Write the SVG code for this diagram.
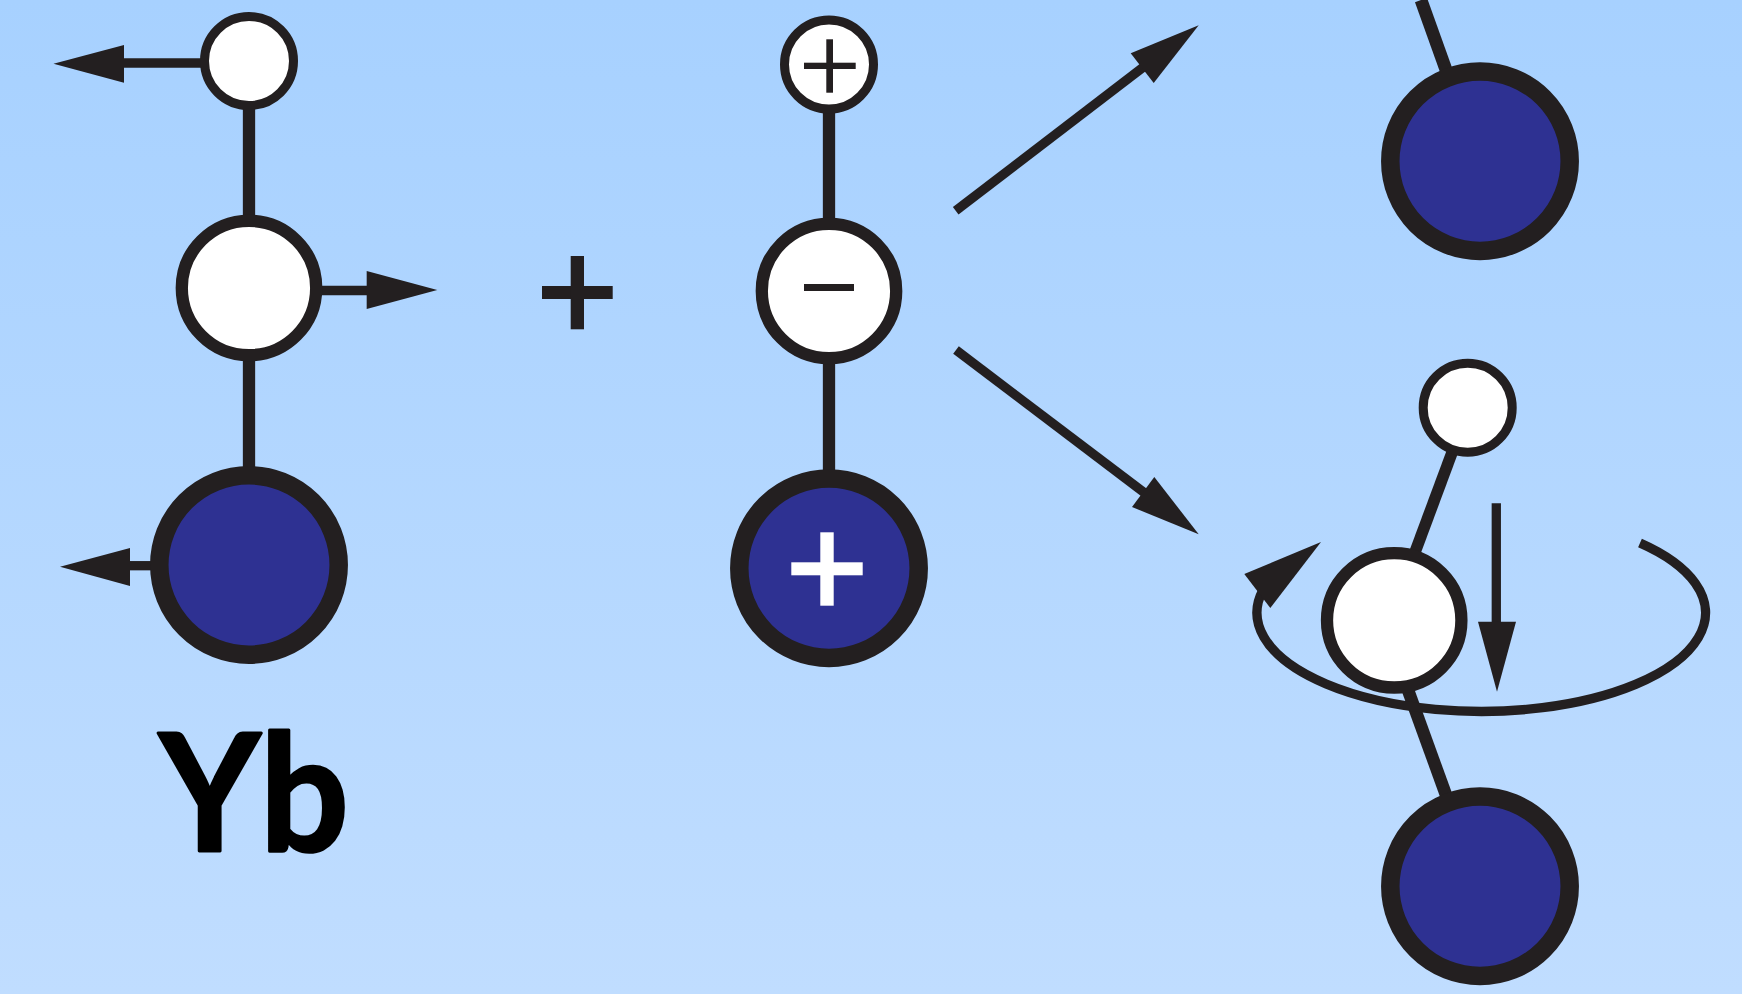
<svg xmlns="http://www.w3.org/2000/svg" width="1742" height="994" viewBox="0 0 1742 994">
  <style>
    .bond { stroke: #231f20; stroke-width: 12.3; fill: none; }
    .shaft { stroke: #231f20; stroke-width: 9.3; fill: none; }
    .head { fill: #231f20; stroke: none; }
    .small { fill: #fff; stroke: #231f20; stroke-width: 9; }
    .mid { fill: #fff; stroke: #231f20; stroke-width: 12.3; }
    .core { fill: #2e3192; stroke: #231f20; stroke-width: 18.5; }
    .ink { fill: #231f20; }
    .paper { fill: #fff; }
    .label { font-family: "Lato", "Noto Sans", sans-serif; font-weight: 700; font-size: 162px; fill: #000; stroke: #000; stroke-width: 3; stroke-linejoin: round; }
  </style>
  <defs>
    <linearGradient id="sky" x1="0" y1="0" x2="0" y2="1">
      <stop offset="0" stop-color="#a7d1ff"/>
      <stop offset="1" stop-color="#c0ddff"/>
    </linearGradient>
  </defs>

  <rect width="1742" height="994" fill="url(#sky)"/>

  <g id="connectors">
    <!-- left molecule -->
    <line class="bond" x1="249" y1="61" x2="249" y2="565"/>
    <line class="shaft" x1="205" y1="63" x2="120" y2="63"/>
    <polygon class="head" points="53.5,63.7 124,45 124,82.7"/>
    <line class="shaft" x1="318" y1="290.5" x2="370" y2="290.5"/>
    <polygon class="head" points="437.3,290 366.7,271 366.7,309"/>
    <line class="shaft" x1="155" y1="565.7" x2="126" y2="565.7"/>
    <polygon class="head" points="60,566.7 130,548 130,586"/>
    <!-- middle molecule -->
    <line class="bond" x1="829" y1="64.5" x2="829" y2="568"/>
    <!-- reaction arrows -->
    <line class="shaft" x1="955.7" y1="210.7" x2="1150" y2="62"/>
    <polygon class="head" points="1198.7,25.3 1130.7,53.3 1153.7,83"/>
    <line class="shaft" x1="956" y1="350" x2="1150" y2="497"/>
    <polygon class="head" points="1198.7,534.3 1154.3,477 1132,507"/>
    <!-- upper right bond -->
    <line class="bond" x1="1421" y1="0" x2="1450" y2="81" style="stroke-width:12.8"/>
    <!-- lower right bonds -->
    <line class="bond" x1="1456.7" y1="440" x2="1411" y2="563" style="stroke-width:11.6"/>
    <line class="bond" x1="1400" y1="668" x2="1450" y2="806" style="stroke-width:12.5"/>
  </g>

  <g id="left-small"><circle class="small" cx="249" cy="61" r="44.5"/></g>
  <g id="left-mid"><circle class="mid" cx="249" cy="288" r="67.2"/></g>
  <g id="left-core"><circle class="core" cx="249" cy="565" r="89.7"/></g>
  <g id="left-label"><text class="label" transform="translate(159 851) scale(.965 1)">Yb</text></g>

  <g id="sum-sign">
    <rect class="ink" x="542" y="286" width="70.7" height="13"/>
    <rect class="ink" x="570.7" y="256" width="13.3" height="73.3"/>
  </g>

  <g id="middle-small">
    <circle class="small" cx="829" cy="64.5" r="44.5"/>
    <rect class="ink" x="804" y="62.7" width="51.7" height="6.3"/>
    <rect class="ink" x="826.3" y="39.3" width="6.7" height="53.4"/>
  </g>
  <g id="middle-mid">
    <circle class="mid" cx="829" cy="291" r="67.2"/>
    <rect class="ink" x="804" y="284" width="50" height="7"/>
  </g>
  <g id="middle-core">
    <circle class="core" cx="829" cy="568.3" r="89.7"/>
    <rect class="paper" x="791.3" y="562.3" width="71.4" height="13"/>
    <rect class="paper" x="820.3" y="532.3" width="13.4" height="73.4"/>
  </g>

  <g id="upper-core"><circle class="core" cx="1480" cy="161.2" r="89.7"/></g>

  <g id="lower-small"><circle class="small" cx="1467.7" cy="407.7" r="44.5"/></g>
  <g id="lower-mid"><circle class="mid" cx="1394.2" cy="620.3" r="67.2"/></g>
  <g id="lower-core"><circle class="core" cx="1480" cy="886.3" r="89.7"/></g>

  <g id="rotation">
    <path class="shaft" d="M1640 543 A224.3 98.7 0 1 1 1263 590"/>
    <polygon class="head" points="1321,542 1244.3,574 1270.3,608"/>
    <line class="shaft" x1="1496.3" y1="503.3" x2="1496.3" y2="625"/>
    <polygon class="head" points="1497,691.7 1478,621.7 1516,621.7"/>
  </g>
</svg>
